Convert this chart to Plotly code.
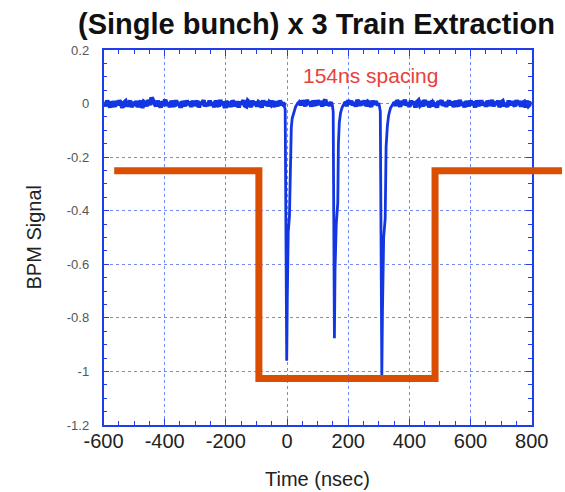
import plotly.graph_objects as go

# ---------------- data ----------------
# baseline noise, sampled every 5 ns, in four stretches between the pulses
base_a_start, base_a_step = -598, 5
base_a = [
    0.004, -0.009, 0.011, -0.002, -0.014, 0.007, 0.001, -0.011, 0.009, -0.006,
    0.012, -0.004, -0.015, 0.003, 0.008, -0.010, 0.000, 0.010, -0.013, 0.005,
    -0.007, 0.009, -0.012, -0.001, 0.011, -0.016, 0.006, 0.002, -0.009, 0.013,
    -0.005, 0.022, 0.008, 0.003, -0.010, 0.010, -0.003, -0.014, 0.007, 0.001,
    0.014, -0.008, 0.004, -0.013, 0.009, -0.002, -0.011, 0.012, -0.006, 0.003,
    -0.015, 0.008, 0.000, -0.009, 0.011, -0.004, 0.006, -0.012, 0.010, -0.007,
    0.002, 0.009, -0.014, 0.005, -0.003, 0.012, -0.010, 0.001, -0.008, 0.011,
    -0.006, 0.004, -0.013, 0.010, -0.001, -0.011, 0.013, -0.005, 0.007, -0.016,
    0.009, -0.003, 0.005, -0.012, 0.011, 0.000, -0.009, 0.008, -0.014, 0.006,
    -0.002, 0.012, -0.007, -0.010, 0.009, 0.003, -0.013, 0.010, -0.004, 0.007,
    -0.011, 0.005, 0.001, -0.015, 0.012, -0.006, 0.008, -0.009, 0.004, -0.003,
    0.010, -0.012, 0.006, -0.001, -0.008, 0.011, -0.005, 0.003, -0.010,
]
base_b_start, base_b_step = 40, 5
base_b = [
    0.008, -0.006, 0.011, 0.002, -0.009, 0.013, -0.003, 0.006, -0.011, 0.010,
    0.001, -0.007, 0.012, -0.004, 0.009, -0.010, 0.005, 0.014, -0.006, 0.003,
    -0.008, 0.006,
]
base_c_start, base_c_step = 190, 5
base_c = [
    0.007, -0.009, 0.012, -0.002, 0.010, -0.006, 0.004, -0.011, 0.013, 0.000,
    -0.007, 0.009, -0.004, 0.011, -0.010, 0.006, 0.002, -0.012, 0.010, -0.003,
    0.008, -0.005,
]
base_d_start, base_d_step = 350, 5
base_d = [
    0.006, -0.008, 0.012, 0.001, -0.011, 0.009, -0.004, 0.014, -0.007, 0.003,
    -0.012, 0.010, -0.002, 0.007, -0.014, 0.005, 0.011, -0.006, 0.000, -0.010,
    0.013, -0.005, 0.008, -0.013, 0.004, 0.010, -0.009, 0.002, -0.015, 0.009,
    -0.003, 0.012, -0.008, 0.005, -0.011, 0.001, 0.011, -0.006, 0.007, -0.012,
    0.009, -0.002, -0.010, 0.013, -0.007, 0.004, -0.013, 0.008, 0.000, -0.009,
    0.011, -0.004, 0.006, -0.014, 0.010, -0.001, -0.008, 0.012, -0.005, 0.003,
    -0.011, 0.009, 0.002, -0.007, 0.013, -0.010, 0.005, -0.003, 0.010, -0.013,
    0.004, 0.008, -0.009, 0.001, -0.012, 0.011, -0.006, 0.007, -0.002, -0.010,
    0.012, -0.004, 0.009, -0.011, 0.003, 0.006, -0.014, 0.010, -0.007, 0.002,
    0.005,
]

# the three extracted bunches (154 ns apart)
pulse1_t = [-6, -5, -3, -1, 1, 4, 8, 10, 11, 14, 17, 22, 28, 35]
pulse1_v = [-0.02, -0.2, -0.45, -0.96, -0.72, -0.48, -0.42, -0.3, -0.17, -0.09, -0.055, -0.03, -0.012, 0.002]
pulse2_t = [148, 151, 152, 154, 155, 157, 161, 166, 167, 168, 171, 175, 180, 186]
pulse2_v = [-0.004, -0.03, -0.25, -0.6, -0.876, -0.62, -0.45, -0.37, -0.25, -0.15, -0.07, -0.035, -0.015, 0.0]
pulse3_t = [301, 305, 306, 308, 310, 312, 316, 321, 322, 324, 328, 332, 338, 345]
pulse3_v = [-0.003, -0.03, -0.3, -0.7, -1.015, -0.78, -0.5, -0.43, -0.3, -0.16, -0.085, -0.045, -0.018, 0.0]

# kicker gate (orange)
gate_t_ns = [-565, -92, -92, 484, 484, 899]
gate_level = [-0.251, -0.251, -1.026, -1.026, -0.251, -0.251]

x_tick_vals = [-600, -400, -200, 0, 200, 400, 600, 800]
x_tick_text = ["-600", "-400", "-200", "0", "200", "400", "600", "800"]
y_tick_vals = [0.2, 0, -0.2, -0.4, -0.6, -0.8, -1, -1.2]
y_tick_text = ["0.2", "0", "-0.2", "-0.4", "-0.6", "-0.8", "-1", "-1.2"]

title_text = "(Single bunch) x 3 Train Extraction"
note_text = "154ns spacing"
x_title = "Time (nsec)"
y_title = "BPM Signal"


def stretch(start, step, vals):
    return [start + i * step for i in range(len(vals))]


ta = stretch(base_a_start, base_a_step, base_a)
tb = stretch(base_b_start, base_b_step, base_b)
tc = stretch(base_c_start, base_c_step, base_c)
td = stretch(base_d_start, base_d_step, base_d)

t_ns = ta + pulse1_t + tb + pulse2_t + tc + pulse3_t + td
bpm_signal = base_a + pulse1_v + base_b + pulse2_v + base_c + pulse3_v + base_d

# baseline stretches only (drawn thicker, like the fuzzy noise band)
t_base = ta + [None] + tb + [None] + tc + [None] + td
v_base = base_a + [None] + base_b + [None] + base_c + [None] + base_d

# ---------------- layout geometry ----------------
W, H = 565, 492
ML, MR, MT, MB = 100, 0, 50, 67
plot_w = W - ML - MR
plot_h = H - MT - MB
px_left, px_right = 103.5, 531.7
d0 = (px_left - ML) / plot_w
d1 = (px_right - ML) / plot_w
x_range = [-600, 800]
y_range = [-1.2, 0.2]
span = (x_range[1] - x_range[0]) / (d1 - d0)
x2_range = [x_range[0] - d0 * span, x_range[1] + (1 - d1) * span]

FONT = "Liberation Sans, Arial, Helvetica, sans-serif"
AX_BLUE = "#1f3de8"
GRID_BLUE = "rgba(70,100,235,0.75)"
TRACE_BLUE = "#1237e2"

fig = go.Figure()
fig.add_trace(go.Scatter(
    x=t_ns, y=bpm_signal, mode="lines",
    line=dict(color=TRACE_BLUE, width=2.8),
    xaxis="x", yaxis="y", hoverinfo="skip", showlegend=False,
))
fig.add_trace(go.Scatter(
    x=t_base, y=v_base, mode="lines", connectgaps=False,
    line=dict(color=TRACE_BLUE, width=4.5),
    xaxis="x", yaxis="y", hoverinfo="skip", showlegend=False,
))
fig.add_trace(go.Scatter(
    x=gate_t_ns, y=gate_level, mode="lines",
    line=dict(color="#d94e00", width=7),
    xaxis="x2", yaxis="y2", hoverinfo="skip", showlegend=False,
))

axis_common = dict(
    showline=True, linecolor=AX_BLUE, linewidth=1.5, mirror="allticks",
    ticks="inside", ticklen=6, tickcolor=AX_BLUE, tickwidth=1,
    showgrid=True, gridcolor=GRID_BLUE, griddash="dot", gridwidth=1,
    zeroline=False, tickmode="array", automargin=False,
)

fig.update_layout(
    width=W, height=H, autosize=False,
    margin=dict(l=ML, r=MR, t=MT, b=MB, autoexpand=False),
    paper_bgcolor="white", plot_bgcolor="rgba(0,0,0,0)",
    font=dict(family=FONT),
    title=dict(
        text="<b>" + title_text + "</b>",
        font=dict(size=29, color="#111111", family=FONT),
        xref="container", x=316.5 / W, xanchor="center",
        yref="container", y=1 - 24 / H, yanchor="middle",
    ),
    xaxis=dict(
        **axis_common, domain=[d0, d1], range=x_range,
        tickvals=x_tick_vals, ticktext=x_tick_text,
        tickfont=dict(size=20, color="#222222", family=FONT),
        ticklabelstandoff=-3,
        minor=dict(dtick=50, tick0=-600, ticks="inside", ticklen=4,
                   tickcolor=AX_BLUE, showgrid=False),
        anchor="y",
    ),
    yaxis=dict(
        **axis_common, domain=[0, 1], range=y_range,
        tickvals=y_tick_vals, ticktext=y_tick_text,
        tickfont=dict(size=13, color="#555555", family=FONT),
        ticklabelstandoff=10,
        minor=dict(dtick=0.05, tick0=0, ticks="inside", ticklen=4,
                   tickcolor=AX_BLUE, showgrid=False),
        anchor="x",
    ),
    xaxis2=dict(domain=[0, 1], range=x2_range, visible=False, anchor="y2",
                showgrid=False, zeroline=False, automargin=False),
    yaxis2=dict(domain=[0, 1], range=y_range, visible=False, anchor="x2",
                showgrid=False, zeroline=False, automargin=False),
    annotations=[
        dict(text=note_text, x=273, y=0.103, xref="x", yref="y",
             showarrow=False, xanchor="center", yanchor="middle",
             font=dict(size=21, color="#e8413a", family=FONT)),
        dict(text=y_title, x=(33 - ML) / plot_w, y=0.5, xref="paper", yref="paper",
             showarrow=False, textangle=-90, xanchor="center", yanchor="middle",
             font=dict(size=20, color="#222222", family=FONT)),
        dict(text=x_title, x=(317 - ML) / plot_w, y=-(479 - (H - MB)) / plot_h,
             xref="paper", yref="paper", showarrow=False,
             xanchor="center", yanchor="middle",
             font=dict(size=20, color="#222222", family=FONT)),
    ],
)

fig.write_html(
    "out.html",
    config={"responsive": False, "displayModeBar": False},
    post_script=(
        "document.documentElement.style.overflow='hidden';"
        "document.body.style.overflow='hidden';"
        "document.body.style.margin='0px';document.body.style.padding='0px';"
    ),
)
